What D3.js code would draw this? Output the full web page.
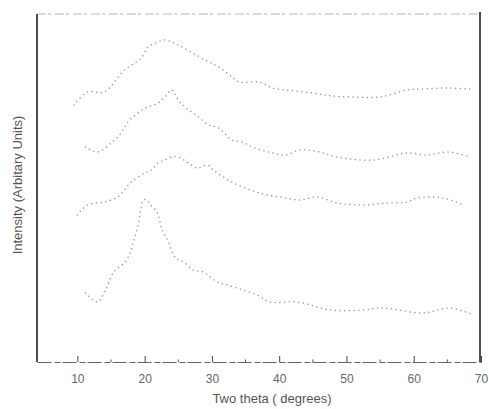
<!DOCTYPE html>
<html>
<head>
<meta charset="utf-8">
<script src="https://cdn.jsdelivr.net/npm/d3@7"></script>
<style>
  body { margin: 0; background: #fff; }
  svg { display: block; font-family: "Liberation Sans", Arial, sans-serif; }
</style>
</head>
<body>
<svg id="chart" width="489" height="409"></svg>
<script>
// two theta (degrees) and intensity (arbitrary units, stacked offsets)
var theta1 = [9.5, 11.5, 14, 17, 19.5, 20.5, 22, 23, 24, 25, 29, 31, 33, 34, 37, 39, 41, 45, 48, 51, 55, 59, 61, 65, 68.5];
var inten1 = [257, 270, 270, 292, 304, 315, 320, 322, 320, 317, 302, 295, 285, 280, 280, 274, 272, 269, 266, 265, 265, 272, 273, 274, 273];

var theta2 = [11.2, 13, 15, 16.5, 17.5, 19, 20.5, 22, 23, 24, 25, 26, 28, 29.5, 31, 33, 34.5, 36, 39, 41, 43, 46, 48.5, 54, 59, 62, 65, 68.5];
var inten2 = [215, 210, 219, 229, 240, 249, 255, 259, 265, 272, 262, 255, 245, 237, 234, 222, 220, 215, 209, 207, 212, 210, 205, 202, 209, 207, 210, 205];

var theta3 = [10, 11.5, 14, 16, 17, 18, 20, 21, 22, 23, 24, 25, 26.3, 27.8, 29.3, 30.2, 31.7, 33.2, 35.7, 38.2, 40.2, 43, 45.7, 48.6, 52.5, 56, 59, 60.5, 64.4, 67.4];
var inten3 = [147, 157, 160, 165, 172, 180, 189, 192, 199, 202, 205, 205, 200, 194, 197, 192, 185, 179, 172, 167, 165, 162, 165, 159, 157, 159, 160, 164, 164, 157];

var theta4 = [11.2, 13, 14.2, 15.4, 17.1, 17.9, 18.3, 19.1, 19.4, 19.8, 20.3, 20.9, 21.9, 22.6, 23.4, 24.6, 25.8, 27.2, 28.7, 30.8, 32.3, 36.7, 38.7, 42.7, 47.6, 52.5, 55.4, 61.4, 65.4, 68.9];
var inten4 = [69, 60, 72, 90, 100, 110, 120, 139, 152, 162, 162, 157, 149, 132, 122, 104, 100, 92, 90, 80, 77, 67, 60, 60, 52, 52, 54, 49, 54, 47];

var majorTicks = [10, 20, 30, 40, 50, 60, 70];
var minorTicks = [15, 25, 35, 45, 55, 65];

var series = [
  { theta: theta1, inten: inten1 },
  { theta: theta2, inten: inten2 },
  { theta: theta3, inten: inten3 },
  { theta: theta4, inten: inten4 }
];

function draw() {
  var svg = d3.select("#chart"),
    mLeft = 37, mRight = 481, mTop = 14, mBottom = 362;

  var x = d3.scaleLinear().domain([4, 70]).range([mLeft, mRight]);
  var y = d3.scaleLinear().domain([0, 348]).range([mBottom, mTop]);

  // frame
  svg.append("line")
    .attr("x1", mLeft).attr("x2", mRight).attr("y1", mTop).attr("y2", mTop)
    .attr("stroke", "#b5b5b5").attr("stroke-width", 1).attr("stroke-dasharray", "9,2,3,4");
  svg.append("line")
    .attr("x1", mLeft).attr("x2", mLeft).attr("y1", mTop).attr("y2", mBottom)
    .attr("stroke", "#222").attr("stroke-width", 1.6);
  svg.append("line")
    .attr("x1", mRight - 1).attr("x2", mRight - 1).attr("y1", mTop - 2).attr("y2", mBottom)
    .attr("stroke", "#222").attr("stroke-width", 1.6);

  // bottom axis, ticks pointing inward
  var xAxis = svg.append("g")
    .attr("transform", "translate(0," + mBottom + ")")
    .call(d3.axisBottom(x).tickValues(majorTicks).tickSizeInner(-6).tickSizeOuter(0).tickPadding(12));
  xAxis.select(".domain").attr("stroke", "#666").attr("stroke-width", 1.2)
    .attr("stroke-dasharray", "14,3,6,2");
  xAxis.selectAll(".tick line").attr("stroke", "#444");
  xAxis.selectAll(".tick text").attr("fill", "#666").attr("font-size", 12)
    .attr("font-family", "Liberation Sans, Arial, sans-serif");

  svg.append("g").selectAll("line")
    .data(minorTicks).enter().append("line")
    .attr("x1", function (d) { return x(d); })
    .attr("x2", function (d) { return x(d); })
    .attr("y1", mBottom).attr("y2", mBottom - 2.5)
    .attr("stroke", "#555");

  // dotted traces
  var line = d3.line()
    .x(function (d) { return x(d[0]); })
    .y(function (d) { return y(d[1]); })
    .curve(d3.curveCatmullRom);

  svg.append("g").selectAll("path")
    .data(series).enter().append("path")
    .attr("d", function (s) { return line(d3.zip(s.theta, s.inten)); })
    .attr("fill", "none")
    .attr("stroke", "#9a9a9a")
    .attr("stroke-width", 1.5)
    .attr("stroke-linecap", "round")
    .attr("stroke-dasharray", "0.1,4.6");

  // labels
  svg.append("text")
    .attr("x", 272).attr("y", 403)
    .attr("text-anchor", "middle")
    .attr("font-size", 13).attr("fill", "#555")
    .text("Two theta ( degrees)");

  svg.append("text")
    .attr("transform", "translate(22,185) rotate(-90)")
    .attr("text-anchor", "middle")
    .attr("font-size", 13).attr("fill", "#555")
    .text("Intensity (Arbitary Units)");
}

draw();
</script>
</body>
</html>
